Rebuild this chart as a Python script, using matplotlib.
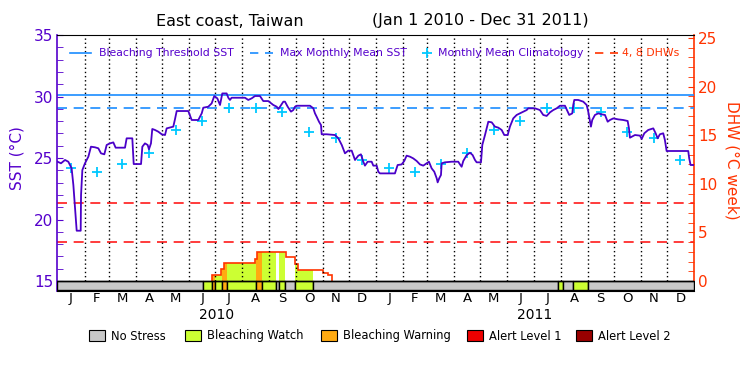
import numpy as np
import matplotlib
matplotlib.use('Agg')
import matplotlib.pyplot as plt
from matplotlib.lines import Line2D
from matplotlib.patches import Rectangle

# SST: day since 1 Jan 2010 -> degC
sst_day = [0, 4, 8.6, 12.4, 16.2, 18.2, 20.1, 22, 26.6, 27, 28.5, 31.5, 35.4, 38.4, 43, 46.8,
           49.9, 53.7, 56.4, 60.2, 64, 66.7, 77.4, 79.3, 85.8, 87.4, 95.8, 97.3, 100.3, 103.4,
           104.9, 107.2, 108.7, 111.8, 115.6, 119.5, 123.3, 125.2, 132.8, 134.7, 136.7, 150,
           153.9, 161.5, 165.4, 167.2, 172.9, 176.8, 179.8, 183.3, 186.4, 189, 194, 195.9,
           197.8, 199.7, 215, 218.8, 222.7, 226.5, 232.2, 236, 241.8, 243.7, 247.5, 251.4,
           253.3, 255.2, 259, 260.9, 264, 267.8, 270.4, 272.4, 274.3, 289.6, 293.4, 295.3,
           297.2, 299.9, 302.2, 303, 308.7, 318.2, 322.1, 326, 329.7, 333.5, 337.4, 341.2,
           345, 348, 350.7, 352.6, 355.7, 360.3, 362.2, 366.1, 367.9, 369.8, 387, 390.1,
           394.7, 397.7, 400.4, 404.2, 408, 411.9, 415.7, 419.5, 423.4, 426, 429.1, 432.1,
           434.9, 436, 437.8, 439.8, 440.6, 444.4, 452.1, 459.6, 461.6, 463.5, 465.4, 469.3,
           473.1, 476.1, 478.8, 480.7, 485.7, 487.2, 490.3, 492.2, 494.1, 498, 501.7, 505.5,
           509.4, 512.4, 516.3, 518.9, 522.7, 526.6, 530.4, 534.2, 538.1, 539.9, 547.6,
           553.3, 557.1, 561, 564.8, 568.6, 572.5, 576.3, 582, 585.1, 586.9, 590.4, 591.5,
           592.7, 597.2, 603, 606.9, 608.7, 610.7, 611.8, 613.3, 616.4, 620.2, 624.1, 627.9,
           631, 633.6, 637.4, 643.1, 648.9, 653.9, 655.4, 656.5, 662.3, 668, 670, 673,
           677.5, 683.3, 686, 688.3, 690.9, 694.7, 696.6, 698.6, 723.4, 724.5, 726.1, 730]
sst_val = [24.70, 24.57, 24.84, 24.70, 24.16, 22.80, 20.91, 19.09, 19.09, 21.99, 24.02, 24.57,
           25.11, 25.92, 25.87, 25.79, 25.38, 25.30, 26.06, 26.19, 26.27, 25.84, 25.84, 26.60,
           26.60, 24.51, 24.51, 25.92, 26.19, 26.06, 25.71, 26.19, 27.36, 27.28, 27.14, 26.93,
           26.87, 27.41, 27.55, 28.14, 28.82, 28.82, 28.09, 28.09, 28.63, 29.09, 29.17, 29.44,
           30.04, 29.85, 29.31, 30.25, 30.25, 29.90, 29.72, 29.90, 29.90, 29.72, 29.85, 30.04,
           30.04, 29.63, 29.63, 29.52, 29.31, 29.17, 28.98, 29.17, 29.58, 29.58, 29.17, 28.77,
           28.90, 29.17, 29.25, 29.25, 29.04, 28.63, 28.36, 27.95, 27.68, 26.93, 26.93, 26.87,
           26.60, 26.06, 25.38, 25.60, 25.60, 24.84, 25.19, 25.30, 24.70, 24.38, 24.70, 24.70,
           24.38, 24.38, 23.89, 23.75, 23.75, 24.43, 24.48, 24.76, 25.19, 25.11, 24.97, 24.76,
           24.48, 24.38, 24.57, 24.70, 24.16, 23.89, 23.35, 23.02, 23.35, 23.62, 24.57, 24.65,
           24.70, 24.70, 24.48, 24.29, 24.76, 25.24, 25.43, 25.24, 24.84, 24.65, 24.65, 26.06,
           26.87, 27.41, 27.95, 27.90, 27.55, 27.47, 27.28, 26.87, 26.87, 27.55, 28.22, 28.50,
           28.63, 28.77, 28.90, 29.04, 29.04, 28.90, 28.50, 28.42, 28.71, 28.90, 29.04, 29.25,
           29.25, 28.77, 28.50, 28.63, 29.31, 29.72, 29.72, 29.58, 29.31, 28.77, 27.95, 27.55,
           28.09, 28.50, 28.63, 28.55, 28.50, 27.95, 28.09, 28.22, 28.14, 28.09, 28.01, 27.41,
           26.65, 26.87, 26.82, 26.55, 27.01, 27.28, 27.41, 27.01, 26.60, 26.93, 27.01, 26.47,
           25.57, 25.57, 24.97, 24.43, 24.43]

# monthly mean climatology (Jan..Dec), same for both years
clim_val = [24.2, 23.9, 24.5, 25.4, 27.3, 28.0, 29.1, 29.1, 28.7, 27.1, 26.6, 24.8]
mmm = 29.1
threshold = 30.1
dhw_lines = [4, 8]

# stress level bar: 0 no stress, 1 watch, 2 warning
status_start = [0, 166.5, 177.5, 180.6, 188.3, 194, 227.6, 234.2, 250.6, 254, 261.3, 272.4,
                293.4, 573.6, 580, 591.5, 608.7]
status_end = [166.5, 177.5, 180.6, 188.3, 194, 227.6, 234.2, 250.6, 254, 261.3, 272.4, 293.4,
              573.6, 580, 591.5, 608.7, 730]
status_level = [0, 1, 2, 1, 2, 1, 2, 1, 0, 1, 0, 1, 0, 1, 0, 1, 0]

# degree heating weeks (steps)
dhw_edges = [177.5, 187.5, 191.3, 226.5, 229.2, 262.0, 272.4, 276.2, 304.8, 310.6, 314.4]
dhw_values = [0.6, 1.2, 1.9, 2.3, 2.95, 2.5, 1.75, 1.15, 0.8, 0.6]

month_names = ['J', 'F', 'M', 'A', 'M', 'J', 'J', 'A', 'S', 'O', 'N', 'D']
years = ['2010', '2011']
status_names = ['No Stress', 'Bleaching Watch', 'Bleaching Warning', 'Alert Level 1', 'Alert Level 2']
status_colors = ['#c8c8c8', '#ccff33', '#ffaa11', '#ee0000', '#990000']

purple = '#5500cc'
sst_color = '#4a00c8'
blue = '#1a8cff'
cyan = '#00c8ff'
red = '#ff3300'

W, H = 750, 375
def fx(x):
    return x / W
def fy(y):
    return 1 - y / H

fig = plt.figure(figsize=(7.5, 3.75), dpi=100)
ax = fig.add_axes([fx(57.5), fy(290.5), (694 - 57.5) / W, (290.5 - 35) / H])
ax2 = ax.twinx()
ax.set_zorder(ax2.get_zorder() + 1)
ax.patch.set_visible(False)

ylo = 14.23
ax.set_xlim(0, 730)
ax.set_ylim(ylo, 35)
ax2.set_ylim(-0.98, 25.31)

months = np.arange('2010-01', '2012-02', dtype='datetime64[M]')
mstart = (months.astype('datetime64[D]') - np.datetime64('2010-01-01')).astype(int)
mmid = (mstart[:-1] + mstart[1:]) / 2

# month grid
ax.vlines(mstart[1:-1], 15, 35, colors='black', linestyles=(0, (1, 2)), lw=1.0, zorder=1)

# DHW fill and outline
for s0, s1, lev in zip(status_start, status_end, status_level):
    if lev == 0:
        continue
    for e0, e1, v in zip(dhw_edges[:-1], dhw_edges[1:], dhw_values):
        a, b = max(s0, e0), min(s1, e1)
        if b > a:
            ax2.bar(a, v, width=b - a, align='edge', color=status_colors[lev], lw=0, zorder=1)
ax2.stairs(dhw_values, dhw_edges, baseline=0, color=red, lw=1.2, zorder=2)
for d in dhw_lines:
    ax2.axhline(d, color='#ff1a1a', lw=1.2, dashes=(6, 4))

# thresholds
ax.axhline(threshold, color=blue, lw=1.2, zorder=2)
ax.axhline(mmm, color=blue, lw=1.2, dashes=(6, 4), zorder=2)

# climatology crosses
ax.plot(mmid, clim_val * 2, ls='none', marker='+', ms=7, mew=1.3, color=cyan, zorder=3)

# SST
ax.plot(sst_day, sst_val, color=sst_color, lw=1.3, zorder=4)

# stress bar
for s0, s1, lev in zip(status_start, status_end, status_level):
    ax.broken_barh([(s0, s1 - s0)], (ylo, 15 - ylo), facecolors=status_colors[lev],
                   edgecolor='black', lw=1.0, zorder=5)
ax.axhline(15, color='black', lw=1.0, zorder=6)

# spines and ticks
ax.spines['left'].set_color(purple)
ax.spines['right'].set_visible(False)
ax.spines['top'].set_color('black')
ax.spines['bottom'].set_color('black')
for s in ['left', 'top', 'bottom']:
    ax2.spines[s].set_visible(False)
ax2.spines['right'].set_color(red)
ax2.spines['right'].set_linewidth(1.2)
ax.spines['left'].set_linewidth(1.2)

ax.set_xticks([])
ax.set_yticks([15, 20, 25, 30, 35])
ax.set_yticks(np.arange(16, 35), minor=True)
ax.tick_params(axis='y', which='both', direction='in', color=purple, labelcolor=purple,
               length=4, labelsize=11, pad=3)
ax2.set_yticks([0, 5, 10, 15, 20, 25])
ax2.set_yticks(np.arange(1, 26), minor=True)
ax2.tick_params(axis='y', which='both', direction='in', color=red, labelcolor=red,
                length=4, labelsize=11, pad=3)

# month and year labels
xt = ax.get_xaxis_transform()
for i, m in enumerate(mmid):
    ax.text(m, -0.033, month_names[i % 12], transform=xt, ha='center', va='center',
            fontsize=9.5, color='black')
for k, yr in enumerate(years):
    ax.text((mstart[12 * k] + mstart[12 * k + 12]) / 2, -0.096, yr, transform=xt,
            ha='center', va='center', fontsize=10, color='black')

# axis labels
fig.text(fx(17), fy(158), 'SST (°C)', rotation=90, ha='center', va='center',
         fontsize=11, color=purple)
fig.text(fx(732), fy(160), 'DHW (°C week)', rotation=-90, ha='center', va='center',
         fontsize=11, color=red)

# title
fig.text(fx(230), fy(21), 'East coast, Taiwan', ha='center', va='center', fontsize=11.5)
fig.text(fx(480), fy(21), '(Jan 1 2010 - Dec 31 2011)', ha='center', va='center', fontsize=11.5)

# top legend
ly = fy(53)
fig.add_artist(Line2D([fx(70), fx(91)], [ly, ly], color=blue, lw=1.2))
fig.text(fx(99), ly, 'Bleaching Threshold SST', color=purple, fontsize=7.8, va='center')
fig.add_artist(Line2D([fx(250), fx(273)], [ly, ly], color=blue, lw=1.2, dashes=(5, 4)))
fig.text(fx(280), ly, 'Max Monthly Mean SST', color=purple, fontsize=7.8, va='center')
fig.add_artist(Line2D([fx(427)], [ly], marker='+', ms=7, mew=1.3, color=cyan, ls='none'))
fig.text(fx(438), ly, 'Monthly Mean Climatology', color=purple, fontsize=7.8, va='center')
fig.add_artist(Line2D([fx(595), fx(618)], [ly, ly], color=red, lw=1.2, dashes=(5, 4)))
fig.text(fx(622), ly, '4, 8 DHWs', color=red, fontsize=7.8, va='center')

# bottom legend
box_x = [88.5, 185, 321, 467, 576]
for bx, name, c in zip(box_x, status_names, status_colors):
    fig.add_artist(Rectangle((fx(bx), fy(341)), 16 / W, 11 / H, transform=fig.transFigure,
                             facecolor=c, edgecolor='black', lw=0.8))
    fig.text(fx(bx + 22), fy(336), name, fontsize=8.3, va='center', color='black')

fig.savefig('out.png', dpi=100)
